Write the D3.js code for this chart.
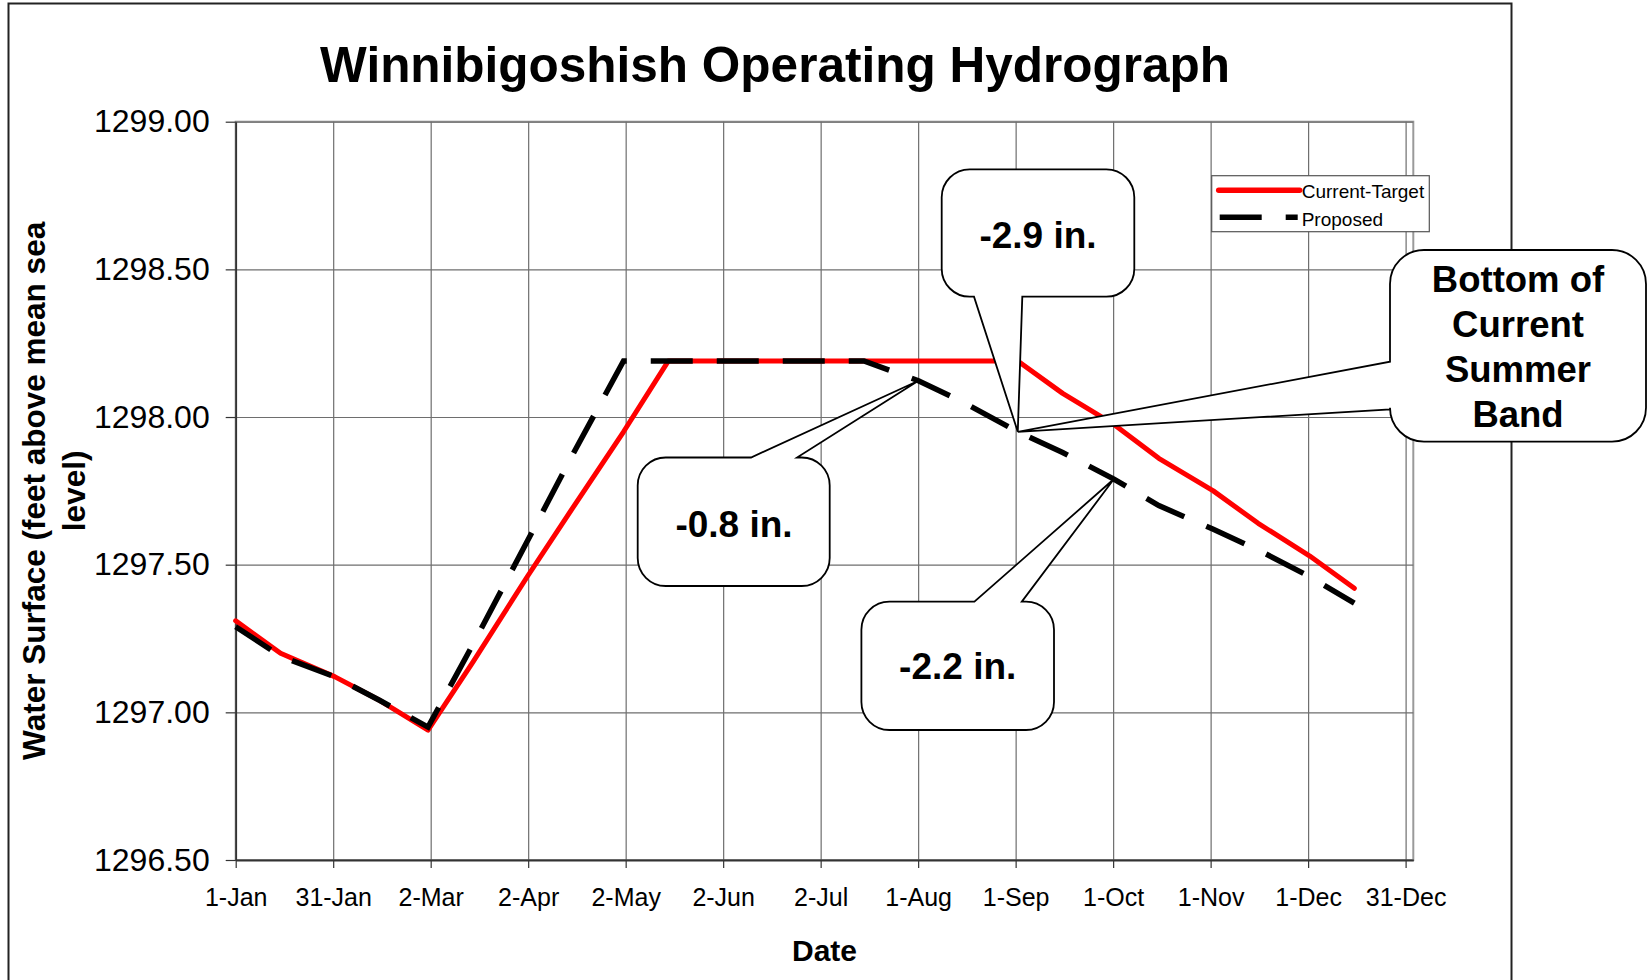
<!DOCTYPE html>
<html>
<head>
<meta charset="utf-8">
<script src="https://cdn.jsdelivr.net/npm/d3@7"></script>
<style>
  body { margin: 0; background: #fff; }
  svg { font-family: Arial, "Liberation Sans", sans-serif; }
</style>
</head>
<body>
<svg class="chart"></svg>
<script>
// Data: dates of each point and the water surface levels (ft above msl)
var dates = ["2004-01-01","2004-01-15","2004-02-01","2004-02-15","2004-03-01","2004-03-15",
             "2004-04-01","2004-04-15","2004-05-01","2004-05-15","2004-06-01","2004-06-15",
             "2004-07-01","2004-07-15","2004-08-01","2004-08-15","2004-09-01","2004-09-15",
             "2004-10-01","2004-10-15","2004-11-01","2004-11-15","2004-12-01","2004-12-15"];

var currentTarget = [1297.31, 1297.20, 1297.12, 1297.04, 1296.94, 1297.17,
                     1297.46, 1297.69, 1297.95, 1298.19, 1298.19, 1298.19,
                     1298.19, 1298.19, 1298.19, 1298.19, 1298.19, 1298.08,
                     1297.975, 1297.86, 1297.75, 1297.64, 1297.53, 1297.42];

var proposed = [1297.29, 1297.19, 1297.12, 1297.04, 1296.95, 1297.23,
                1297.58, 1297.87, 1298.19, 1298.19, 1298.19, 1298.19,
                1298.19, 1298.19, 1298.123, 1298.05, 1297.95, 1297.88,
                1297.79, 1297.70, 1297.62, 1297.55, 1297.46, 1297.37];

var xTickLabels = ["1-Jan","31-Jan","2-Mar","2-Apr","2-May","2-Jun","2-Jul",
                   "1-Aug","1-Sep","1-Oct","1-Nov","1-Dec","31-Dec"];
var yTicks = [1296.5, 1297.0, 1297.5, 1298.0, 1298.5, 1299.0];

var parseDate = d3.timeParse("%Y-%m-%d");
var dayOfYear = function(s) { var d = parseDate(s); return d3.timeDay.count(d3.timeYear(d), d); };
var days = dates.map(dayOfYear);

// Define margins and dimensions
var W = 1651, H = 980;
var margin = {top: 121.7, left: 235.7},
    width = 1177.6,
    height = 738.3;

var x = d3.scaleLinear().domain([0, 367.4]).range([0, width]);
var y = d3.scaleLinear().domain([1296.5, 1299]).range([height, 0]);

// tick every 365/12 days, as the original axis did
var tickDays = xTickLabels.map(function(d, i) { return i * 365 / 12; });

var svg = d3.select(".chart").attr("width", W).attr("height", H);

svg.append("rect").attr("width", W).attr("height", H).attr("fill", "#fff");

// outer chart frame
svg.append("rect")
    .attr("x", 8.5).attr("y", 3.5)
    .attr("width", 1503).attr("height", 1000)
    .attr("fill", "none").attr("stroke", "#222").attr("stroke-width", 2);

// Title
svg.append("text")
    .attr("x", 775).attr("y", 82)
    .attr("text-anchor", "middle")
    .attr("font-size", 49.5).attr("font-weight", "bold")
    .text("Winnibigoshish Operating Hydrograph");

var chart = svg.append("g")
    .attr("transform", "translate(" + margin.left + "," + margin.top + ")");

// plot area border
chart.append("rect")
    .attr("width", width).attr("height", height)
    .attr("fill", "none").attr("stroke", "#9a9a9a").attr("stroke-width", 2);

// grid lines
chart.append("g")
    .attr("transform", "translate(0," + height + ")")
    .call(d3.axisBottom(x).tickValues(tickDays).tickSize(-height).tickFormat(""))
    .call(function(g) {
      g.select(".domain").remove();
      g.selectAll("line").attr("stroke", "#6e6e6e").attr("stroke-width", 1.2);
    });

chart.append("g")
    .call(d3.axisLeft(y).tickValues(yTicks).tickSize(-width).tickFormat(""))
    .call(function(g) {
      g.select(".domain").remove();
      g.selectAll("line").attr("stroke", "#6e6e6e").attr("stroke-width", 1.2);
    });

// Add x-axis
chart.append("g")
    .attr("transform", "translate(0," + height + ")")
    .call(d3.axisBottom(x).tickValues(tickDays).tickSize(8).tickSizeOuter(0).tickPadding(20)
      .tickFormat(function(d, i) { return xTickLabels[i]; }))
    .call(function(g) {
      g.select(".domain").attr("stroke", "#333").attr("stroke-width", 1.8);
      g.selectAll("line").attr("stroke", "#333").attr("stroke-width", 1.2);
      g.selectAll("text").attr("font-size", 25).attr("font-family", null).attr("fill", "#000");
    });

// Add y-axis
chart.append("g")
    .call(d3.axisLeft(y).tickValues(yTicks).tickSize(10).tickSizeOuter(0).tickPadding(16)
      .tickFormat(d3.format(".2f")))
    .call(function(g) {
      g.select(".domain").attr("stroke", "#333").attr("stroke-width", 1.8);
      g.selectAll("line").attr("stroke", "#333").attr("stroke-width", 1.2);
      g.selectAll("text").attr("font-size", 32).attr("font-family", null).attr("fill", "#000");
    });

// Axis titles
svg.append("text")
    .attr("x", margin.left + width / 2).attr("y", 961)
    .attr("text-anchor", "middle")
    .attr("font-size", 30).attr("font-weight", "bold")
    .text("Date");

var yTitle = svg.append("text")
    .attr("transform", "translate(0," + (margin.top + height / 2) + ") rotate(-90)")
    .attr("text-anchor", "middle")
    .attr("font-size", 31.5).attr("font-weight", "bold");
yTitle.append("tspan").attr("x", 0).attr("y", 45).text("Water Surface (feet above mean sea");
yTitle.append("tspan").attr("x", 0).attr("y", 85).text("level)");

// Lines
var line = function(values) {
  return d3.line()
    .x(function(d, i) { return x(days[i]); })
    .y(function(d) { return y(d); })(values);
};

chart.append("path")
    .attr("d", line(currentTarget))
    .attr("fill", "none").attr("stroke", "#ff0000").attr("stroke-width", 5)
    .attr("stroke-linejoin", "round").attr("stroke-linecap", "round");

chart.append("path")
    .attr("d", line(proposed))
    .attr("fill", "none").attr("stroke", "#000").attr("stroke-width", 5.5)
    .attr("stroke-dasharray", "42,24");

// Legend
var legend = svg.append("g").attr("transform", "translate(1211.7,175.7)");
legend.append("rect")
    .attr("width", 217.6).attr("height", 56)
    .attr("fill", "#fff").attr("stroke", "#555").attr("stroke-width", 1.2);
legend.append("line")
    .attr("x1", 7).attr("x2", 88).attr("y1", 14.5).attr("y2", 14.5)
    .attr("stroke", "#ff0000").attr("stroke-width", 5.5).attr("stroke-linecap", "round");
legend.append("line")
    .attr("x1", 8).attr("x2", 86).attr("y1", 41.5).attr("y2", 41.5)
    .attr("stroke", "#000").attr("stroke-width", 5.5).attr("stroke-dasharray", "42,24");
legend.append("text").attr("x", 90).attr("y", 22).attr("font-size", 19).text("Current-Target");
legend.append("text").attr("x", 90).attr("y", 50).attr("font-size", 19).text("Proposed");

// Callouts: rounded box with a pointer wedge to a point on the proposed line
function calloutPath(b, tip) {
  var x0 = b.x0, y0 = b.y0, x1 = b.x1, y1 = b.y1, r = b.r;
  var p = d3.path();
  p.moveTo(x0 + r, y0);
  if (b.side === "top") { p.lineTo(b.b1, y0); p.lineTo(tip[0], tip[1]); p.lineTo(b.b2, y0); }
  p.lineTo(x1 - r, y0);
  p.arcTo(x1, y0, x1, y0 + r, r);
  p.lineTo(x1, y1 - r);
  p.arcTo(x1, y1, x1 - r, y1, r);
  if (b.side === "bottom") { p.lineTo(b.b2, y1); p.lineTo(tip[0], tip[1]); p.lineTo(b.b1, y1); }
  p.lineTo(x0 + r, y1);
  p.arcTo(x0, y1, x0, y1 - r, r);
  if (b.side === "left") { p.lineTo(x0, b.b2); p.lineTo(tip[0], tip[1]); p.lineTo(x0, b.b1); }
  p.lineTo(x0, y0 + r);
  p.arcTo(x0, y0, x0 + r, y0, r);
  p.closePath();
  return p.toString();
}

var callouts = [
  {idx: 16, x0: 941.7, y0: 169.3, x1: 1134.3, y1: 296.7, r: 28, side: "bottom", b1: 974, b2: 1022.3,
   lines: ["-2.9 in."], tx: 1038, ty: [248], fs: 37},
  {idx: 14, x0: 637.7, y0: 457.5, x1: 829.7, y1: 586, r: 28, side: "top", b1: 751, b2: 797,
   lines: ["-0.8 in."], tx: 734, ty: [537], fs: 37},
  {idx: 18, x0: 861.4, y0: 601.7, x1: 1054, y1: 730, r: 28, side: "top", b1: 974.4, b2: 1021.8,
   lines: ["-2.2 in."], tx: 957.7, ty: [679], fs: 37},
  {idx: 16, x0: 1390, y0: 250, x1: 1646, y1: 441.7, r: 34, side: "left", b1: 361.7, b2: 409.3,
   lines: ["Bottom of", "Current", "Summer", "Band"], tx: 1518, ty: [291.7, 336.7, 381.7, 426.7], fs: 36.5}
];

callouts.forEach(function(c) {
  var tip = [margin.left + x(days[c.idx]), margin.top + y(proposed[c.idx])];
  svg.append("path")
      .attr("d", calloutPath(c, tip))
      .attr("fill", "#fff").attr("stroke", "#000").attr("stroke-width", 1.8)
      .attr("stroke-linejoin", "miter");
  c.lines.forEach(function(t, i) {
    svg.append("text")
        .attr("x", c.tx).attr("y", c.ty[i])
        .attr("text-anchor", "middle")
        .attr("font-size", c.fs).attr("font-weight", "bold")
        .text(t);
  });
});
</script>
</body>
</html>
